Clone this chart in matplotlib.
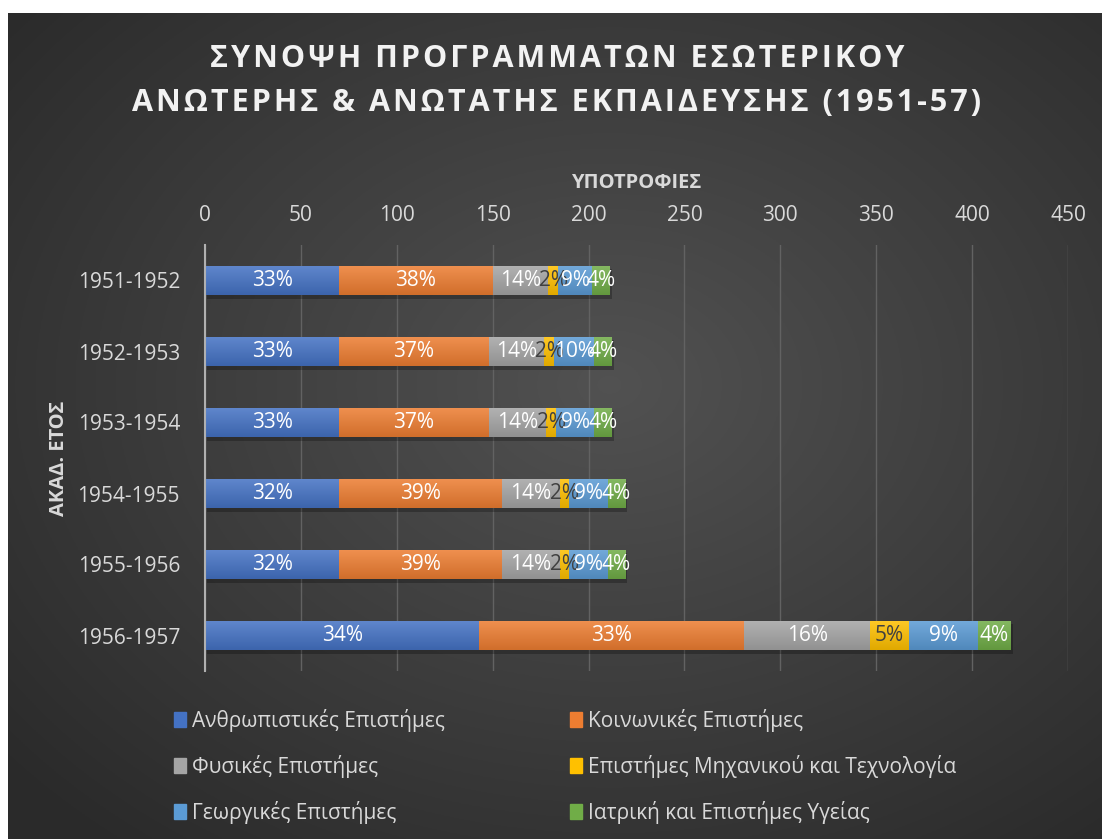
import numpy as np
import matplotlib
matplotlib.use("Agg")
import matplotlib.pyplot as plt
from matplotlib.patches import Rectangle
from matplotlib import colors as mcolors

plt.rcParams['font.family'] = ['Open Sans', 'DejaVu Sans']

years = ['1951-1952', '1952-1953', '1953-1954', '1954-1955', '1955-1956', '1956-1957']
series = ['Ανθρωπιστικές Επιστήμες', 'Κοινωνικές Επιστήμες', 'Φυσικές Επιστήμες',
          'Επιστήμες Μηχανικού και Τεχνολογία', 'Γεωργικές Επιστήμες',
          'Ιατρική και Επιστήμες Υγείας']
humanities = [70, 70, 70, 70, 70, 143]
social = [80, 78, 78, 85, 85, 138]
natural = [29, 29, 30, 30, 30, 66]
engineering = [5, 5, 5, 5, 5, 20]
agriculture = [18, 21, 20, 20, 20, 36]
medical = [9, 9, 9, 9, 9, 17]
values = [humanities, social, natural, engineering, agriculture, medical]
bar_colors = ['#4472C4', '#ED7D31', '#A5A5A5', '#FFC000', '#5B9BD5', '#70AD47']
label_colors = ['white', 'white', 'white', '#404040', 'white', 'white']
xticks = [0, 50, 100, 150, 200, 250, 300, 350, 400, 450]

title = 'ΣΥΝΟΨΗ ΠΡΟΓΡΑΜΜΑΤΩΝ ΕΣΩΤΕΡΙΚΟΥ\nΑΝΩΤΕΡΗΣ & ΑΝΩΤΑΤΗΣ ΕΚΠΑΙΔΕΥΣΗΣ (1951-57)'
light = '#d9d9d9'

W, H = 1102, 839
fig = plt.figure(figsize=(W / 100, H / 100), dpi=100)
fig.patch.set_facecolor('white')

# dark radial background
bg = fig.add_axes([8 / W, 0, (W - 8) / W, (H - 13) / H])
bg.axis('off')
yy, xx = np.mgrid[0:1:400j, 0:1:500j]
r = np.sqrt(((xx - 0.55) / 0.75) ** 2 + ((yy - 0.55) / 0.75) ** 2)
shade = np.clip(0.32 - 0.16 * r, 0.165, 0.32)
bg.imshow(np.dstack([shade] * 3), extent=[0, 1, 0, 1], aspect='auto', origin='lower')
bg.set_xlim(0, 1)
bg.set_ylim(0, 1)

ax = fig.add_axes([205 / W, 1 - 671 / H, 863 / W, 426 / H])
ax.set_facecolor('none')
ypos = np.arange(len(years))
bh = 0.41

def spaced(s):
    return '\n'.join('\u200a'.join(line) for line in s.split('\n'))

tot = np.sum(np.array(values, dtype=float), axis=0)
left = np.zeros(len(years))
for k, vals in enumerate(values):
    vals = np.array(vals, dtype=float)
    bars = ax.barh(ypos, vals, left=left, height=bh, color=bar_colors[k], zorder=3)
    base = np.array(mcolors.to_rgb(bar_colors[k]))
    grad = np.linspace(0, 1, 50)[:, None]
    top_c = base + (1 - base) * 0.15
    bot_c = base * 0.88
    img = top_c[None, None, :] * (1 - grad[:, :, None]) + bot_c[None, None, :] * grad[:, :, None]
    for b, v, l, t in zip(bars, vals, left, tot):
        ax.add_patch(Rectangle((l + 1.2, b.get_y() + 0.05), v, bh, color='black',
                               alpha=0.25, zorder=2, lw=0))
        im = ax.imshow(img, extent=[l, l + v, b.get_y() + bh, b.get_y()],
                       aspect='auto', zorder=4, interpolation='bilinear')
        im.set_clip_path(b)
        ax.text(l + v / 2, b.get_y() + bh / 2, f'{v / t * 100:.0f}%', ha='center',
                va='center', color=label_colors[k], fontsize=15, zorder=6)
    left += vals

ax.set_xlim(0, 450)
ax.set_ylim(len(years) - 0.5, -0.5)
ax.set_xticks(xticks)
ax.set_yticks(ypos)
ax.set_yticklabels(years)
ax.xaxis.tick_top()
ax.tick_params(axis='both', length=0, colors=light, labelsize=15)
ax.tick_params(axis='x', pad=14)
ax.tick_params(axis='y', pad=18)
ax.grid(axis='x', color='#626262', lw=1, zorder=0)
for s in ['top', 'right', 'bottom']:
    ax.spines[s].set_visible(False)
ax.spines['left'].set_color('#b0b0b0')
ax.spines['left'].set_linewidth(1.5)
ax.spines['left'].set_zorder(5)

ax.set_xlabel('ΥΠΟΤΡΟΦΙΕΣ', fontsize=14.5, fontweight='bold', color=light, labelpad=12)
ax.xaxis.set_label_position('top')
ax.set_ylabel('ΑΚΑΔ. ΕΤΟΣ', fontsize=14.5, fontweight='bold', color=light, labelpad=6)

fig.text(557 / W, 1 - 81 / H, spaced(title), ha='center', va='center', fontsize=22,
         fontweight='bold', color='#f2f2f2', linespacing=1.65)

# legend, laid out row by row in two columns
for k, name in enumerate(series):
    row, col = k // 2, k % 2
    x0 = (174 if col == 0 else 570) / W
    yc = 1 - (720 + row * 46) / H
    fig.patches.append(Rectangle((x0, yc - 7 / H), 12 / W, 15 / H, color=bar_colors[k],
                                 transform=fig.transFigure, figure=fig))
    fig.text(x0 + 18 / W, yc, name, ha='left', va='center', fontsize=15, color=light)

fig.savefig('out.png', dpi=100, facecolor=fig.get_facecolor())
